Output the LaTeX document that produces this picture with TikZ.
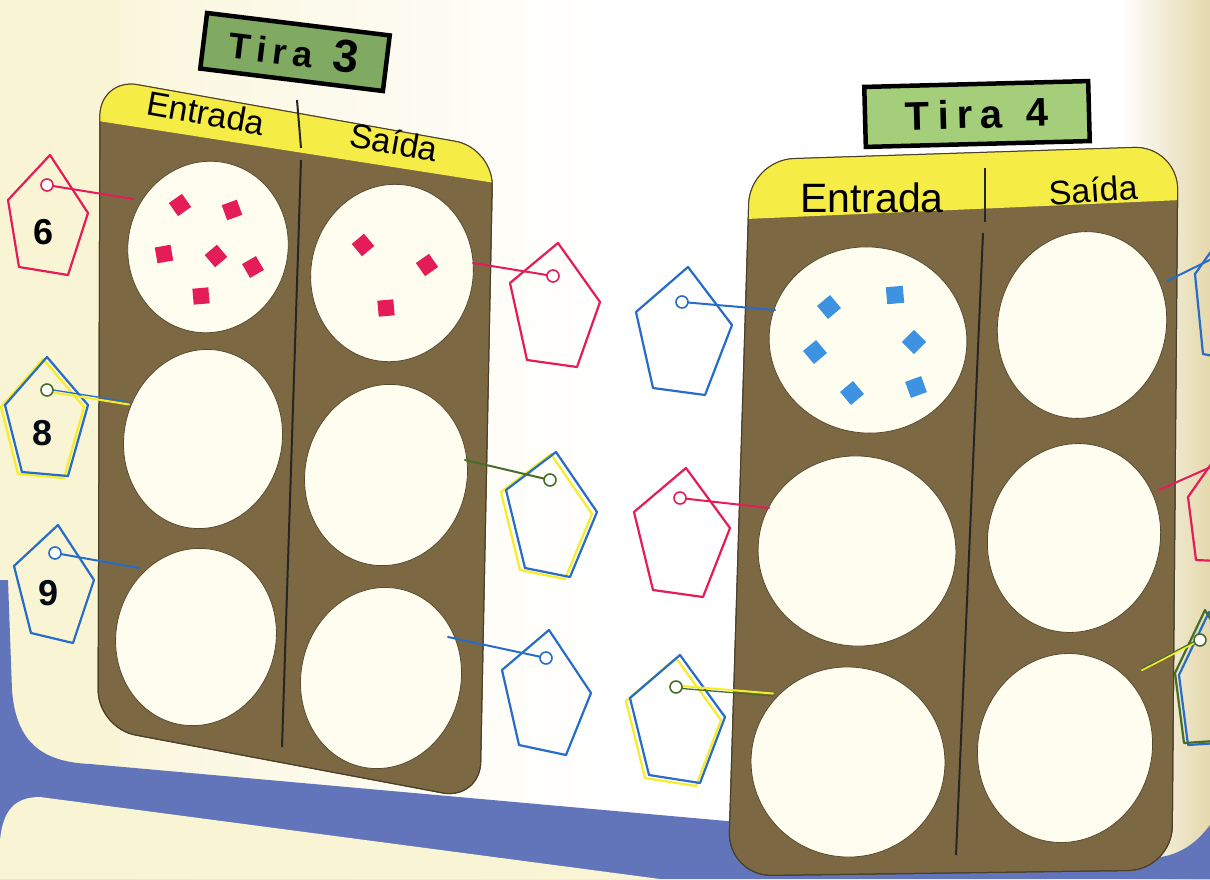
\documentclass[tikz,border=0pt]{standalone}
\usepackage{fontspec}
\setmainfont{Liberation Sans}
\definecolor{cream}{RGB}{249,244,212}
\definecolor{beige}{RGB}{228,216,172}
\definecolor{bandblue}{RGB}{98,116,186}
\definecolor{panelbrown}{RGB}{124,105,68}
\definecolor{hdryellow}{RGB}{246,236,70}
\definecolor{holefill}{RGB}{255,253,240}
\definecolor{tagpink}{RGB}{228,28,88}
\definecolor{tagblue}{RGB}{38,108,200}
\definecolor{sqblue}{RGB}{62,146,226}
\definecolor{tagyellow}{RGB}{246,236,40}
\definecolor{taggreen}{RGB}{70,110,40}
\definecolor{boxgreenA}{RGB}{128,170,98}
\definecolor{boxgreenB}{RGB}{164,206,122}
\tikzset{
  panel/.style={fill=panelbrown, draw=panelbrown!60!black, line width=1pt},
  hole/.style={fill=holefill, draw=panelbrown!70!black, line width=0.8pt},
  divider/.style={draw=black!85, line width=2pt},
  hdrtext/.style={inner sep=0pt, text=black},
  titlebox/.style={draw=black, line width=4.5pt, inner sep=0pt},
  pent/.style={line width=2.2pt, line join=round},
  stringln/.style={line width=2pt, line cap=round},
  ring/.style={line width=1.6pt, fill=white},
  sqpink/.style={fill=tagpink, minimum size=16pt, inner sep=0pt},
  sqblu/.style={fill=sqblue, minimum size=17pt, inner sep=0pt},
  numtext/.style={inner sep=0pt, font=\fontsize{36}{40}\selectfont\bfseries}
}
\begin{document}
\begin{tikzpicture}[x=1pt,y=-1pt]
\useasboundingbox (0,0) rectangle (1210,879);
\clip (0,0) rectangle (1210,879);
% background
\fill[white] (0,0) rectangle (1210,879);
\shade[left color=cream, right color=white] (0,0) rectangle (600,879);
\fill[cream] (0,0) rectangle (120,879);
\shade[left color=white, right color=beige] (1120,0) rectangle (1210,879);
% blue band
\fill[bandblue] (0,580) -- (8,580) -- (12,690) .. controls (16,745) and (45,762) .. (90,764)
  -- (1140,858) .. controls (1175,860) and (1195,845) .. (1210,825) -- (1210,879) -- (0,879) -- cycle;
\fill[cream] (0,879) -- (0,840) .. controls (3,810) and (15,797) .. (40,797) -- (660,879) -- cycle;

% ---------- Tira 3 ----------
\node[titlebox, fill=boxgreenA, minimum width=184pt, minimum height=56pt, rotate=-7] (t3box) at (295,52) {};
\node[hdrtext, rotate=-7, font=\bfseries] (t3text) at (294,50)
  {\fontsize{36}{40}\selectfont T\hspace{6pt}i\hspace{6pt}r\hspace{6pt}a\hspace{20pt}\fontsize{46}{50}\selectfont 3};

\path[panel, rounded corners=38pt] (100,78) -- (493,148) -- (480,800) -- (98,728) -- cycle;
\begin{scope}
  \clip[rounded corners=38pt] (100,78) -- (493,148) -- (480,800) -- (98,728) -- cycle;
  \fill[hdryellow] (60,0) -- (540,0) -- (540,190) -- (60,115) -- cycle;
\end{scope}
\draw[panelbrown!60!black, line width=1pt, rounded corners=38pt] (100,78) -- (493,148) -- (480,800) -- (98,728) -- cycle;
\draw[divider] (297,100) -- (301,148);
\draw[divider] (301,160) -- (282,747);
\node[hdrtext, rotate=-10, font=\fontsize{34}{38}\selectfont] (t3in) at (206,113) {Entrada};
\node[hdrtext, rotate=-10, font=\fontsize{34}{38}\selectfont] (t3out) at (394,142) {Saída};

\draw[hole, rotate around={-12:(208,247)}] (208,247) ellipse [x radius=80pt, y radius=86pt];
\draw[hole, rotate around={-12:(392,273)}] (392,273) ellipse [x radius=81pt, y radius=89pt];
\draw[hole, rotate around={-12:(203,439)}] (203,439) ellipse [x radius=79pt, y radius=90pt];
\draw[hole, rotate around={-12:(386,475)}] (386,475) ellipse [x radius=81pt, y radius=91pt];
\draw[hole, rotate around={-12:(196,637)}] (196,637) ellipse [x radius=80pt, y radius=89pt];
\draw[hole, rotate around={-12:(381,678)}] (381,678) ellipse [x radius=80pt, y radius=91pt];

% pink squares
\node[sqpink, rotate=35] (p1) at (180,205) {};
\node[sqpink, rotate=20] (p2) at (232,210) {};
\node[sqpink, rotate=10] (p3) at (164,254) {};
\node[sqpink, rotate=40] (p4) at (216,256) {};
\node[sqpink, rotate=30] (p5) at (253,267) {};
\node[sqpink, rotate=5] (p6) at (201,296) {};
\node[sqpink, rotate=40] (p7) at (363,245) {};
\node[sqpink, rotate=35] (p8) at (427,265) {};
\node[sqpink, rotate=5] (p9) at (386,308) {};

% tags panel 3
\coordinate (h6) at (47,185); \coordinate (e6) at (133,199);
\draw[pent, tagpink] (50,155) -- (88,213) -- (68,275) -- (19,267) -- (8,200) -- cycle;
\draw[stringln, tagpink] (h6) -- (e6);
\draw[tagpink, ring] (h6) circle (6pt);
\node[numtext] (n6) at (44,232) {6};

\coordinate (h8) at (47,390); \coordinate (e8) at (129,403);
\draw[pent, tagyellow] (43,359) -- (84,407) -- (64,478) -- (18,474) -- (1,407) -- cycle;
\draw[pent, tagblue] (47,357) -- (88,405) -- (68,476) -- (22,472) -- (5,405) -- cycle;
\draw[stringln, tagyellow] ([yshift=-1.5pt]h8) -- ([yshift=-1.5pt]e8);
\draw[stringln, tagblue, line width=1.3pt] ([yshift=1pt]h8) -- ([yshift=1pt]e8);
\draw[taggreen, ring] (h8) circle (6pt);
\node[numtext, text=black!90!tagblue] (n8) at (43,433) {8};

\coordinate (h9) at (55,553); \coordinate (e9) at (139,568);
\draw[pent, tagblue] (58,525) -- (94,580) -- (73,643) -- (31,633) -- (14,566) -- cycle;
\draw[stringln, tagblue] (h9) -- (e9);
\draw[tagblue, ring] (h9) circle (6pt);
\node[numtext, text=black!90!tagblue] (n9) at (49,593) {9};

\coordinate (hr1) at (553,276); \coordinate (er1) at (473,263);
\draw[pent, tagpink] (558,243) -- (600,302) -- (577,367) -- (527,360) -- (510,283) -- cycle;
\draw[stringln, tagpink] (er1) -- (hr1);
\draw[tagpink, ring] (hr1) circle (6pt);

\coordinate (hr2) at (550,480); \coordinate (er2) at (465,460);
\draw[pent, tagyellow] (551,454) -- (592,514) -- (565,579) -- (520,570) -- (501,492) -- cycle;
\draw[pent, tagblue] (556,452) -- (597,512) -- (570,577) -- (525,568) -- (506,490) -- cycle;
\draw[stringln, taggreen] (er2) -- (hr2);
\draw[taggreen, ring] (hr2) circle (6pt);

\coordinate (hr3) at (546,658); \coordinate (er3) at (448,637);
\draw[pent, tagblue] (549,630) -- (591,693) -- (566,755) -- (519,745) -- (502,670) -- cycle;
\draw[stringln, tagblue] (er3) -- (hr3);
\draw[tagblue, ring] (hr3) circle (6pt);

% ---------- Tira 4 ----------
\node[titlebox, fill=boxgreenB, minimum width=224pt, minimum height=60pt, rotate=1.5] (t4box) at (977,114) {};
\node[hdrtext, rotate=1.5, font=\bfseries] (t4text) at (977,114)
  {\fontsize{40}{44}\selectfont T\hspace{8pt}i\hspace{8pt}r\hspace{8pt}a\hspace{24pt}4};

\path[panel, rounded corners=44pt] (750,160) -- (1178,146) -- (1172,870) -- (728,876) -- cycle;
\begin{scope}
  \clip[rounded corners=44pt] (750,160) -- (1178,146) -- (1172,870) -- (728,876) -- cycle;
  \fill[hdryellow] (700,0) -- (1250,0) -- (1250,197) -- (700,221) -- cycle;
\end{scope}
\draw[panelbrown!60!black, line width=1pt, rounded corners=44pt] (750,160) -- (1178,146) -- (1172,870) -- (728,876) -- cycle;
\draw[divider] (985,168) -- (985,222);
\draw[divider] (983,233) -- (956,855);
\node[hdrtext, font=\fontsize{41}{44}\selectfont] (t4in) at (872,198) {Entrada};
\node[hdrtext, rotate=4, font=\fontsize{34}{38}\selectfont] (t4out) at (1093,190) {Saída};

\draw[hole, rotate around={-8:(868,340)}] (868,340) ellipse [x radius=99pt, y radius=93pt];
\draw[hole, rotate around={-15:(1082,325)}] (1082,325) ellipse [x radius=84pt, y radius=94pt];
\draw[hole, rotate around={-8:(857,551)}] (857,551) ellipse [x radius=99pt, y radius=95pt];
\draw[hole, rotate around={-15:(1074,538)}] (1074,538) ellipse [x radius=86pt, y radius=95pt];
\draw[hole, rotate around={-8:(848,762)}] (848,762) ellipse [x radius=97pt, y radius=95pt];
\draw[hole, rotate around={-15:(1065,748)}] (1065,748) ellipse [x radius=87pt, y radius=95pt];

% blue squares
\node[sqblu, rotate=40] (b1) at (829,307) {};
\node[sqblu, rotate=5] (b2) at (895,295) {};
\node[sqblu, rotate=40] (b3) at (815,352) {};
\node[sqblu, rotate=45] (b4) at (914,342) {};
\node[sqblu, rotate=40] (b5) at (852,393) {};
\node[sqblu, rotate=20] (b6) at (916,387) {};

% tags panel 4 left
\coordinate (hl1) at (682,302); \coordinate (el1) at (775,310);
\draw[pent, tagblue] (688,267) -- (732,325) -- (705,395) -- (653,388) -- (636,312) -- cycle;
\draw[stringln, tagblue] (hl1) -- (el1);
\draw[tagblue, ring] (hl1) circle (6pt);

\coordinate (hl2) at (680,498); \coordinate (el2) at (769,508);
\draw[pent, tagpink] (686,468) -- (730,528) -- (703,597) -- (653,590) -- (634,512) -- cycle;
\draw[stringln, tagpink] (hl2) -- (el2);
\draw[tagpink, ring] (hl2) circle (6pt);

\coordinate (hl3) at (676,687); \coordinate (el3) at (773,695);
\draw[pent, tagyellow] (676,658) -- (721,720) -- (696,786) -- (645,778) -- (626,701) -- cycle;
\draw[pent, tagblue] (680,655) -- (725,717) -- (700,783) -- (649,775) -- (630,698) -- cycle;
\draw[stringln, tagyellow] ([yshift=1.5pt]hl3) -- ([yshift=1.5pt]el3);
\draw[stringln, taggreen, line width=1.3pt] ([yshift=-1pt]hl3) -- ([yshift=-1pt]el3);
\draw[taggreen, ring] (hl3) circle (6pt);

% tags panel 4 right (cut by page edge)
\coordinate (hq1) at (1226,252); \coordinate (eq1) at (1167,281);
\draw[pent, tagblue] (1232,222) -- (1262,290) -- (1245,362) -- (1203,354) -- (1195,274) -- cycle;
\draw[stringln, tagblue] (eq1) -- (hq1);

\coordinate (hq2) at (1222,462); \coordinate (eq2) at (1159,490);
\draw[pent, tagpink] (1228,440) -- (1262,500) -- (1240,562) -- (1196,560) -- (1188,497) -- cycle;
\draw[stringln, tagpink] (eq2) -- (hq2);

\coordinate (hq3) at (1200,640); \coordinate (eq3) at (1142,670);
\draw[pent, tagblue] (1209,612) -- (1244,670) -- (1234,742) -- (1188,745) -- (1179,675) -- cycle;
\draw[pent, taggreen] (1205,610) -- (1240,668) -- (1230,740) -- (1184,743) -- (1175,673) -- cycle;
\draw[stringln, tagyellow] (eq3) -- (hq3);
\draw[stringln, taggreen, line width=1.2pt] ([yshift=1.5pt]eq3) -- ([yshift=1.5pt]hq3);
\draw[taggreen, ring] (hq3) circle (6pt);
\end{tikzpicture}
\end{document}
